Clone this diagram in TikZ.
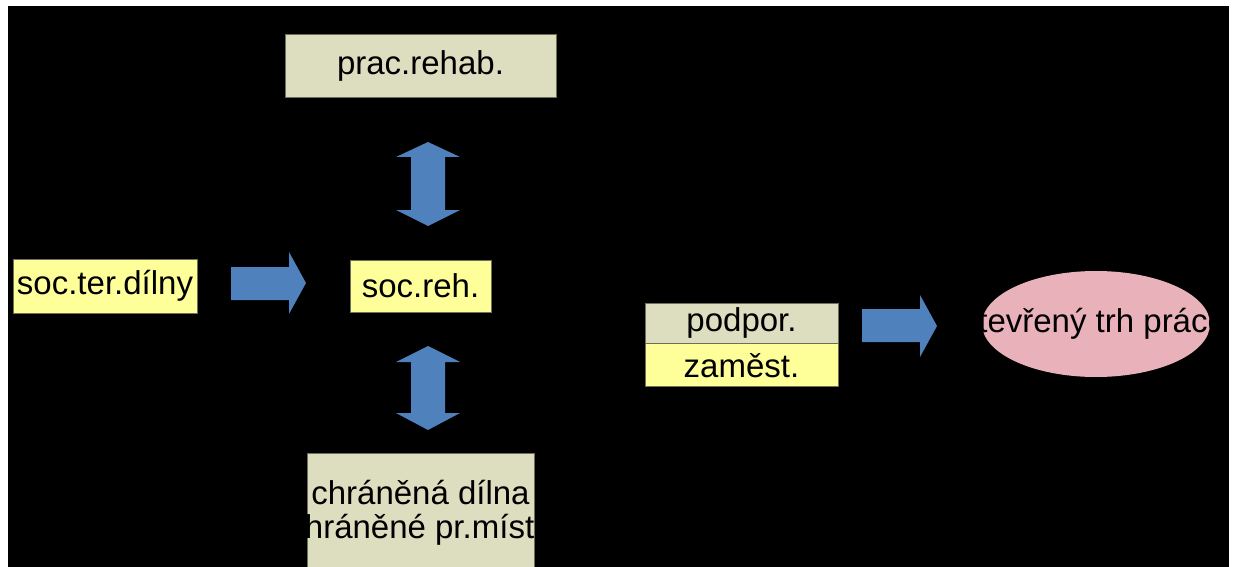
\documentclass[tikz,border=0pt]{standalone}
\usepackage{fontspec}
\setmainfont{Liberation Sans}
\usetikzlibrary{positioning,shapes.geometric}
\definecolor{boxbeige}{RGB}{221,221,192}
\definecolor{boxyellow}{RGB}{255,255,153}
\definecolor{arrowblue}{RGB}{79,129,189}
\definecolor{marketpink}{RGB}{233,178,186}
\definecolor{boxedge}{RGB}{110,110,90}
\tikzset{
  box/.style={draw=boxedge, line width=0.8pt, inner sep=0pt, text=black,
    font=\fontsize{33}{35}\selectfont},
  label text/.style={inner sep=0pt, text=black, align=center,
    font=\fontsize{33}{33.5}\selectfont},
  blockarrow/.style={fill=arrowblue}
}

\begin{document}
\begin{tikzpicture}[x=1pt, y=-1pt]
  \useasboundingbox (0,0) rectangle (1237,567);
  \clip (0,0) rectangle (1237,567);
  \fill[white] (0,0) rectangle (1237,567);
  \fill[black] (8,6) rectangle (1229,567);
  % boxes
  \node[box, fill=boxbeige, minimum width=271pt, minimum height=63pt] (rehab) at (420.5,65.5) {prac.rehab.};
  \node[box, fill=boxyellow, minimum width=184pt, minimum height=54pt] (dilny) at (105,286) {soc.ter.dílny};
  \node[box, fill=boxyellow, minimum width=141pt, minimum height=52pt] (socreh) at (420.5,286) {soc.reh.};
  \node[box, fill=boxbeige, minimum width=227pt, minimum height=120pt] (chranena) at (420.5,513) {};
  \node[label text] (chranenatext) at (chranena.center) {chráněná dílna\\chráněné pr.místo};
  \node[box, fill=boxbeige, minimum width=193pt, minimum height=40pt] (podpor) at (741.5,323) {podpor.};
  \node[box, fill=boxyellow, minimum width=193pt, minimum height=43pt, below=0pt of podpor] (zamest) {zaměst.};
  \node[ellipse, fill=marketpink, minimum width=228pt, minimum height=106pt, inner sep=0pt] (trh) at (1096,324) {};
  \node[label text, xshift=-3pt] (trhtext) at (trh.center) {otevřený trh práce};
  % block arrows
  \fill[blockarrow] (231,267) -- (289,267) -- (289,252) -- (306,283) -- (289,314) -- (289,300) -- (231,300) -- cycle;
  \fill[blockarrow] (862,309) -- (920,309) -- (920,295) -- (937,326) -- (920,357) -- (920,342) -- (862,342) -- cycle;
  \fill[blockarrow] (428,142) -- (460,157) -- (445,157) -- (445,210) -- (460,210) -- (428,226)
    -- (396,210) -- (411,210) -- (411,157) -- (396,157) -- cycle;
  \fill[blockarrow] (428,346) -- (460,362) -- (445,362) -- (445,413) -- (460,413) -- (428,430)
    -- (396,413) -- (411,413) -- (411,362) -- (396,362) -- cycle;
\end{tikzpicture}
\end{document}
